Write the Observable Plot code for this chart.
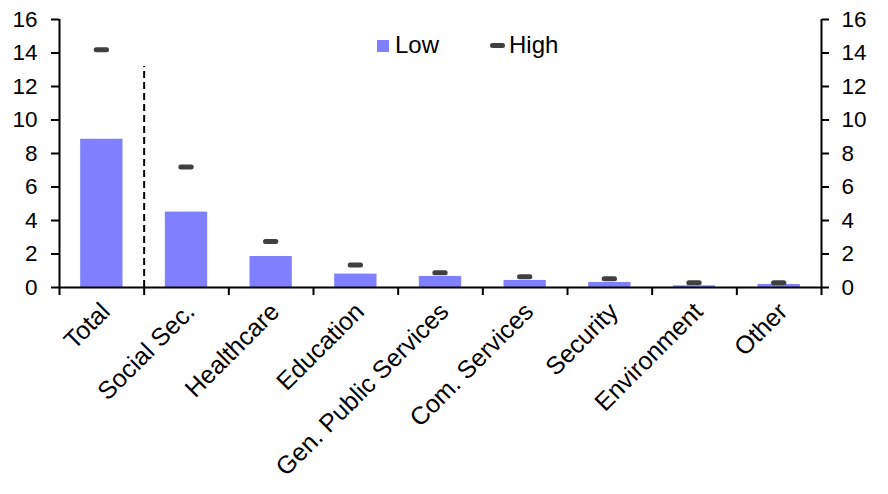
<!DOCTYPE html>
<html>
<head>
<meta charset="utf-8">
<script src="https://cdn.jsdelivr.net/npm/d3@7"></script>
<script src="https://cdn.jsdelivr.net/npm/@observablehq/plot@0.6"></script>
<style>
  html, body { margin: 0; padding: 0; background: #fff; }
  #wrap { position: relative; width: 888px; height: 494px; font-family: "Liberation Sans", Arial, sans-serif; }
  #legend { position: absolute; left: 0; top: 0; font-size: 24px; color: #000; }
  .li { position: absolute; white-space: nowrap; }
</style>
</head>
<body>
<div id="wrap">
  <div id="chart"></div>
  <div id="legend">
    <div class="li" style="left:377px;top:40px;width:12px;height:12px;background:#8080ff"></div>
    <div class="li" style="left:395px;top:32px;line-height:26px">Low</div>
    <div class="li" style="left:490px;top:43px;width:15px;height:5px;border-radius:2.5px;background:#404040"></div>
    <div class="li" style="left:509px;top:32px;line-height:26px">High</div>
  </div>
</div>
<script>
const categories = ["Total", "Social Sec.", "Healthcare", "Education", "Gen. Public Services", "Com. Services", "Security", "Environment", "Other"];
const lowValues  = [8.85, 4.5, 1.85, 0.8, 0.66, 0.42, 0.3, 0.1, 0.18];
const highValues = [14.2, 7.2, 2.75, 1.35, 0.88, 0.64, 0.52, 0.28, 0.28];
const yTicks = [0, 2, 4, 6, 8, 10, 12, 14, 16];

const data = categories.map((c, i) => ({cat: c, low: lowValues[i], high: highValues[i]}));

const W = 888, H = 494, mL = 59, mR = 67, mT = 19, mB = 207;
const step = (W - mL - mR) / categories.length;
const first = categories[0], last = categories[categories.length - 1];

const plot = Plot.plot({
  width: W, height: H,
  marginLeft: mL, marginRight: mR, marginTop: mT, marginBottom: mB,
  style: {fontFamily: "Liberation Sans, Arial, sans-serif", fontSize: "22px", color: "#000", background: "#fff"},
  x: {domain: categories, paddingInner: 0.5, paddingOuter: 0.25, round: false, label: null},
  y: {domain: [0, 16], label: null},
  marks: [
    Plot.barY(data, {x: "cat", y: "low", fill: "#8080ff"}),
    Plot.tickY(data, {x: "cat", y: "high", stroke: "#404040", strokeWidth: 5, strokeLinecap: "round", insetLeft: 16, insetRight: 16}),
    Plot.ruleX([categories[1]], {dx: -step / 2, y1: 0, y2: 13.2, stroke: "#000", strokeWidth: 2, strokeDasharray: "7,4"}),
    Plot.ruleY([0], {stroke: "#000", strokeWidth: 2}),
    Plot.ruleX(categories, {dx: -step / 2, y1: 0, y2: -0.48, stroke: "#000", strokeWidth: 2}),
    Plot.ruleX([last], {dx: step / 2, y1: 0, y2: -0.48, stroke: "#000", strokeWidth: 2}),
    Plot.ruleX([first], {dx: -step / 2, y1: 0, y2: 16, stroke: "#000", strokeWidth: 2}),
    Plot.ruleX([last], {dx: step / 2, y1: 0, y2: 16, stroke: "#000", strokeWidth: 2}),
    Plot.axisY({anchor: "left", ticks: yTicks, tickSize: 8, tickPadding: 14, strokeWidth: 2, fontSize: 22.5, label: null}),
    Plot.axisY({anchor: "right", ticks: yTicks, tickSize: 7, tickPadding: 13, strokeWidth: 2, fontSize: 22.5, label: null}),
    Plot.axisX({anchor: "bottom", tickSize: 0, tickPadding: 20, dx: 4, tickRotate: -45, fontSize: 25, label: null})
  ]
});
document.getElementById("chart").appendChild(plot);
</script>
</body>
</html>
